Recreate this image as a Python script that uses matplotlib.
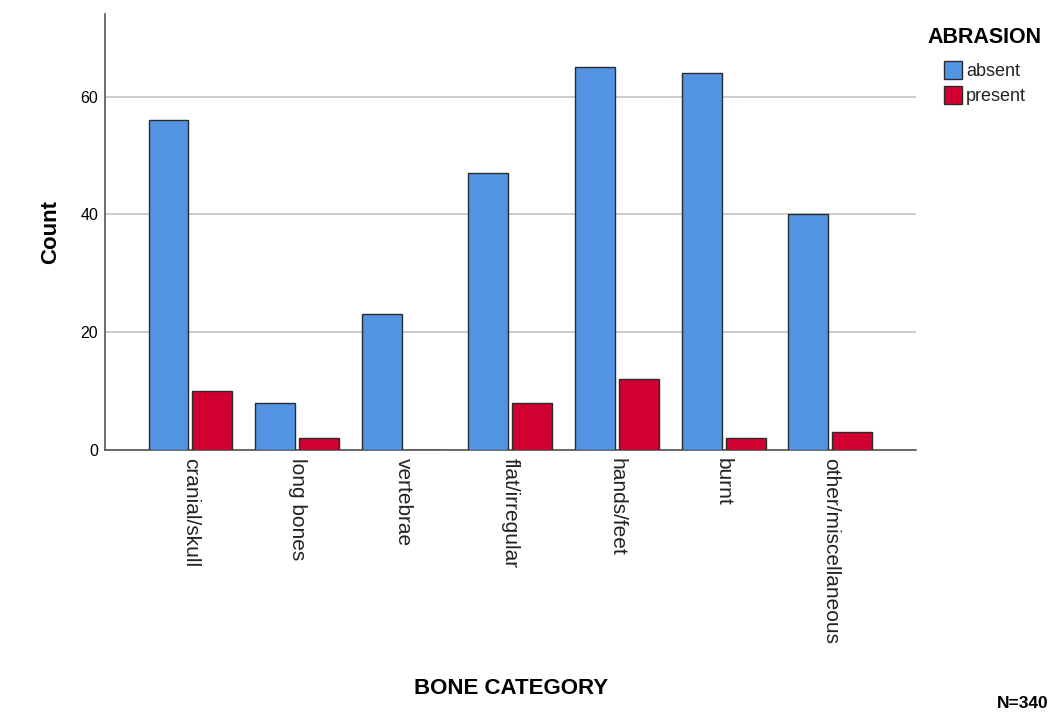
import matplotlib.pyplot as plt
import numpy as np

plt.rcParams['font.family'] = ['Liberation Sans', 'DejaVu Sans']

categories = ['cranial/skull', 'long bones', 'vertebrae', 'flat/irregular',
              'hands/feet', 'burnt', 'other/miscellaneous']
absent = [56, 8, 23, 47, 65, 64, 40]
present = [10, 2, 0, 8, 12, 2, 3]

fig = plt.figure(figsize=(10.61, 7.14), dpi=100)
ax = fig.add_axes([0.099, 0.370, 0.764, 0.610])

x = np.arange(len(categories))
w = 0.375
ax.bar(x - 0.205, absent, w, color='#5294e2', edgecolor='#2b2b2b', linewidth=1, label='absent', zorder=3)
ax.bar(x + 0.205, present, w, color='#d20030', edgecolor='#2b2b2b', linewidth=1, label='present', zorder=3)

ax.set_xlim(-0.8, 6.8)
ax.set_ylim(0, 74)
ax.set_yticks([0, 20, 40, 60])
ax.yaxis.grid(True, color='#c8c8c8', linewidth=1.3, zorder=0)
ax.set_xticks(x)
ax.set_xticklabels(categories, rotation=270, color='#222222')
ax.tick_params(axis='both', length=0)
ax.tick_params(axis='x', pad=6, labelsize=15)
ax.tick_params(axis='y', pad=5, labelsize=11.5)
for s in ['top', 'right']:
    ax.spines[s].set_visible(False)
for s in ['left', 'bottom']:
    ax.spines[s].set_color('#555555')
    ax.spines[s].set_linewidth(1.2)

ax.set_ylabel('Count', fontsize=16, fontweight='bold', labelpad=14)
fig.text(0.482, 0.028, 'BONE CATEGORY', fontsize=16, fontweight='bold', ha='center')
fig.text(0.988, 0.008, 'N=340', fontsize=12.5, fontweight='bold', ha='right')

# legend title drawn separately so the entries sit indented below it
fig.text(0.874, 0.947, 'ABRASION', fontsize=15.5, fontweight='bold', va='center')
leg = fig.legend(loc='upper left', bbox_to_anchor=(0.890, 0.914), frameon=False,
                 fontsize=13, handlelength=1.0, handleheight=1.15,
                 handletextpad=0.2, labelspacing=0.3, borderaxespad=0.0,
                 borderpad=0.0)
for t in leg.get_texts():
    t.set_color('#222222')

fig.savefig('out.png')
